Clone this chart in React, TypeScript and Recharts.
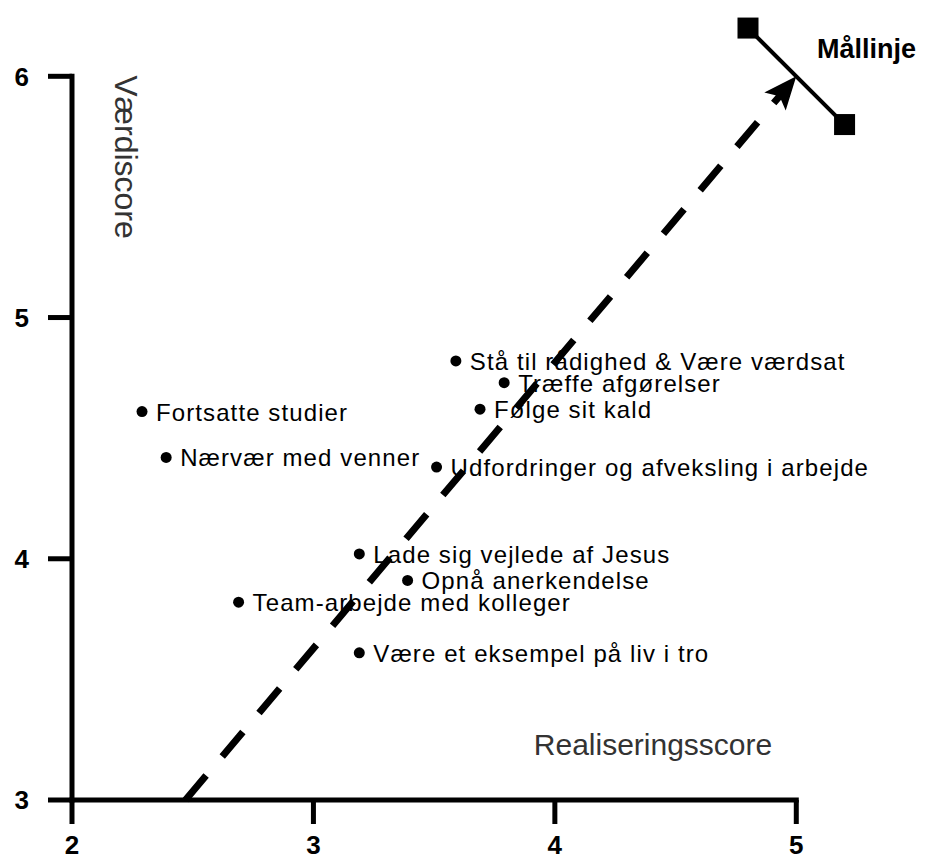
import { ScatterChart, Scatter, XAxis, YAxis, ReferenceLine } from 'recharts'

const FONT = '"Liberation Sans", Arial, Helvetica, sans-serif'

// værdier
const punkter = [
  { navn: 'Fortsatte studier', x: 2.29, y: 4.61 },
  { navn: 'Nærvær med venner', x: 2.39, y: 4.42 },
  { navn: 'Team-arbejde med kolleger', x: 2.69, y: 3.82 },
  { navn: 'Lade sig vejlede af Jesus', x: 3.19, y: 4.02 },
  { navn: 'Være et eksempel på liv i tro', x: 3.19, y: 3.61 },
  { navn: 'Opnå anerkendelse', x: 3.39, y: 3.91 },
  { navn: 'Udfordringer og afveksling i arbejde', x: 3.51, y: 4.38 },
  { navn: 'Stå til rådighed & Være værdsat', x: 3.59, y: 4.82 },
  { navn: 'Følge sit kald', x: 3.69, y: 4.62 },
  { navn: 'Træffe afgørelser', x: 3.79, y: 4.73 },
]

const xTicks = [2, 3, 4, 5]
const yTicks = [3, 4, 5, 6]

const pil = [
  { x: 2.47, y: 3 },
  { x: 5, y: 6 },
]

const maallinje = [
  { x: 4.8, y: 6.2 },
  { x: 5.2, y: 5.8 },
]

const xAkse = [
  { x: 2, y: 3 },
  { x: 5, y: 3 },
]
const yAkse = [
  { x: 2, y: 3 },
  { x: 2, y: 6 },
]

const TITEL_X = 'Realiseringsscore'
const TITEL_Y = 'Værdiscore'
const TITEL_MAAL = 'Mållinje'

const XTick = (props: any) => {
  const { x, y, payload } = props
  return (
    <text
      x={x}
      y={y}
      dy="0.71em"
      textAnchor="middle"
      fontSize={26}
      fontWeight="bold"
      fontFamily={FONT}
      fill="#000"
    >
      {payload.value}
    </text>
  )
}

const YTick = (props: any) => {
  const { x, y, payload } = props
  return (
    <text
      x={x}
      y={y}
      dy="0.36em"
      textAnchor="end"
      fontSize={26}
      fontWeight="bold"
      fontFamily={FONT}
      fill="#000"
    >
      {payload.value}
    </text>
  )
}

const Punkt = (props: any) => {
  const { cx, cy, payload } = props
  return (
    <g>
      <circle cx={cx} cy={cy} r={5.5} fill="#000" />
      <text
        x={cx + 14}
        y={cy + 9}
        fontSize={24}
        letterSpacing={1.1}
        fontFamily={FONT}
        fill="#000"
      >
        {payload.navn}
      </text>
    </g>
  )
}

const Firkant = (props: any) => {
  const { cx, cy } = props
  return <rect x={cx - 10.5} y={cy - 10.5} width={21} height={21} fill="#000" />
}

const Pil = (props: any) => {
  const pts = props.points
  if (!pts || pts.length < 2) return null
  const a = pts[0]
  const b = pts[1]
  const dx = b.x - a.x
  const dy = b.y - a.y
  const len = Math.hypot(dx, dy)
  const ux = dx / len
  const uy = dy / len
  const head = 33
  const half = 14
  const bx = b.x - ux * head
  const by = b.y - uy * head
  const spids = [
    [b.x, b.y],
    [bx - uy * half, by + ux * half],
    [bx + ux * 7, by + uy * 7],
    [bx + uy * half, by - ux * half],
  ]
    .map((p) => p.join(','))
    .join(' ')
  return (
    <g>
      <line
        x1={a.x}
        y1={a.y}
        x2={bx + ux * 8}
        y2={by + uy * 8}
        stroke="#000"
        strokeWidth={7}
        strokeDasharray="32 25"
      />
      <polygon points={spids} fill="#000" />
    </g>
  )
}

export default function App() {
  return (
    <div style={{ width: 918, height: 852 }}>
      <ScatterChart
        width={918}
        height={852}
        margin={{ top: 8, right: 9, bottom: 0, left: 0 }}
      >
        <XAxis
          type="number"
          dataKey="x"
          domain={[2, 5.5]}
          ticks={xTicks}
          interval={0}
          axisLine={false}
          tickSize={24}
          tickMargin={12}
          height={60}
          tickLine={{ stroke: '#000', strokeWidth: 5 }}
          tick={<XTick />}
        />
        <YAxis
          type="number"
          dataKey="y"
          domain={[3, 6.25]}
          ticks={yTicks}
          interval={0}
          axisLine={false}
          tickSize={24}
          tickMargin={19}
          width={64}
          tickLine={{ stroke: '#000', strokeWidth: 5 }}
          tick={<YTick />}
        />
        <ReferenceLine
          segment={xAkse}
          stroke="#000"
          strokeWidth={5}
          strokeLinecap="square"
        />
        <ReferenceLine
          segment={yAkse}
          stroke="#000"
          strokeWidth={5}
          strokeLinecap="square"
        />
        <Scatter data={punkter} shape={Punkt} isAnimationActive={false} />
        <Scatter
          data={pil}
          shape={() => <g />}
          line={Pil}
          isAnimationActive={false}
        />
        <Scatter
          data={maallinje}
          shape={Firkant}
          line={{ stroke: '#000', strokeWidth: 4 }}
          isAnimationActive={false}
        />
        <text
          x={809}
          y={50}
          fontSize={27}
          fontWeight="bold"
          fontFamily={FONT}
          fill="#000"
        >
          {TITEL_MAAL}
        </text>
        <text
          x={645}
          y={747}
          fontSize={30}
          textAnchor="middle"
          fontFamily={FONT}
          fill="#333"
        >
          {TITEL_X}
        </text>
        <text
          x={0}
          y={0}
          transform="translate(107,149) rotate(90)"
          fontSize={32}
          textAnchor="middle"
          fontFamily={FONT}
          fill="#333"
        >
          {TITEL_Y}
        </text>
      </ScatterChart>
    </div>
  )
}
